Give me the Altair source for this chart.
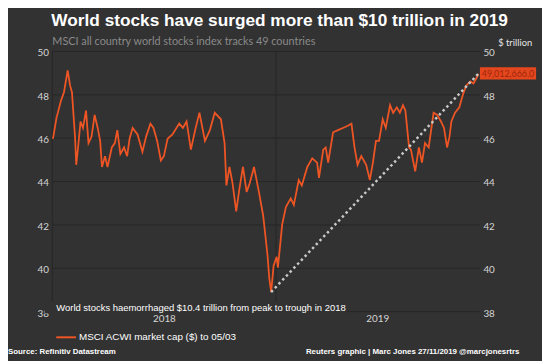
import altair as alt
import pandas as pd

# ---- data ----
dates = [
    "2018-01-02", "2018-01-08", "2018-01-10", "2018-01-15", "2018-01-20", "2018-01-26",
    "2018-01-30", "2018-02-02", "2018-02-07", "2018-02-09", "2018-02-12", "2018-02-16",
    "2018-02-20", "2018-02-25", "2018-03-01", "2018-03-06", "2018-03-11", "2018-03-16",
    "2018-03-20", "2018-03-23", "2018-03-28", "2018-04-01", "2018-04-08", "2018-04-13",
    "2018-04-17", "2018-04-22", "2018-04-28", "2018-05-03", "2018-05-07", "2018-05-12",
    "2018-05-20", "2018-05-28", "2018-06-03", "2018-06-10", "2018-06-15", "2018-06-21",
    "2018-06-27", "2018-07-02", "2018-07-08", "2018-07-16", "2018-07-27", "2018-08-02",
    "2018-08-08", "2018-08-15", "2018-08-22", "2018-08-29", "2018-09-07", "2018-09-15",
    "2018-09-23", "2018-10-03", "2018-10-09", "2018-10-12", "2018-10-17", "2018-10-22",
    "2018-10-28", "2018-11-02", "2018-11-08", "2018-11-14", "2018-11-19", "2018-11-26",
    "2018-12-04", "2018-12-11", "2018-12-18", "2018-12-21", "2018-12-24", "2018-12-28",
    "2019-01-02", "2019-01-04", "2019-01-11", "2019-01-17", "2019-01-25", "2019-01-30",
    "2019-02-07", "2019-02-12", "2019-02-21", "2019-03-01", "2019-03-09", "2019-03-12",
    "2019-03-19", "2019-03-23", "2019-03-27", "2019-04-04", "2019-04-12", "2019-04-20",
    "2019-04-28", "2019-05-04", "2019-05-09", "2019-05-14", "2019-05-20", "2019-05-28",
    "2019-06-03", "2019-06-08", "2019-06-13", "2019-06-18", "2019-06-24", "2019-06-29",
    "2019-07-06", "2019-07-11", "2019-07-17", "2019-07-22", "2019-07-27", "2019-07-31",
    "2019-08-06", "2019-08-09", "2019-08-16", "2019-08-22", "2019-08-27", "2019-09-01",
    "2019-09-07", "2019-09-15", "2019-09-21", "2019-09-27", "2019-10-02", "2019-10-07",
    "2019-10-11", "2019-10-14", "2019-10-20", "2019-10-27", "2019-11-02", "2019-11-07",
    "2019-11-14", "2019-11-19", "2019-11-25", "2019-11-27",
]
market_cap = [
    45.95, 46.95, 47.15, 47.7, 48.1, 49.1,
    48.4, 48.1, 46.05, 44.75, 45.55, 46.75,
    46.45, 47.25, 45.75, 46.05, 47.05, 46.45,
    45.85, 44.65, 45.15, 44.65, 45.55, 45.75,
    46.35, 45.25, 45.55, 45.15, 45.95, 46.45,
    46.15, 45.35, 46.05, 46.65, 46.45, 45.85,
    44.95, 45.15, 45.95, 46.15, 46.65, 46.45,
    46.75, 45.45, 46.35, 47.15, 45.85, 46.35,
    47.15, 46.85, 45.75, 43.8, 44.65, 43.9,
    42.6, 43.6, 44.65, 43.5, 43.9, 44.65,
    43.5, 42.4, 40.6, 39.5, 38.88, 40.1,
    40.5, 40.0, 42.0, 42.8, 43.2, 42.9,
    44.05, 43.8, 44.65, 45.05, 44.85, 44.15,
    45.45, 45.55, 44.85, 46.25, 46.35, 46.45,
    46.55, 46.65, 45.55, 44.75, 45.15, 44.75,
    44.05, 44.85, 45.85, 45.85, 46.85, 46.45,
    47.5, 47.15, 47.4, 47.15, 47.5, 47.25,
    45.55, 45.45, 44.45, 45.55, 44.85, 45.75,
    45.55, 47.15, 47.05, 46.75, 46.45, 45.55,
    46.05, 46.75, 47.15, 47.4, 48.0, 48.4,
    48.6, 48.5, 48.8, 48.95,
]
trend_dates = ["2018-12-24", "2019-11-27"]
trend_values = [38.88, 48.95]
year_boundaries = ["2018-01-01", "2019-01-01"]
y_ticks = [38, 40, 42, 44, 46, 48, 50]

title_text = "World stocks have surged more than $10 trillion in 2019"
subtitle_text = "MSCI all country world stocks index tracks 49 countries"
unit_text = "$ trillion"
annotation_text = "World stocks haemorrhaged $10.4 trillion from peak to trough in 2018"
legend_text = "MSCI ACWI market cap ($) to 05/03"
last_value_text = "49,012,666.0"
source_text = "Source: Refinitiv Datastream"
credit_text = "Reuters graphic | Marc Jones 27/11/2019 @marcjonesrtrs"

# ---- styles ----
BG = "#323232"
GRID = "#272727"
ORANGE = "#ee5524"
LABEL = "#d6d6d6"

df = pd.DataFrame({"date": dates, "value": market_cap})
trend = pd.DataFrame({"date": trend_dates, "value": trend_values})
bounds = pd.DataFrame({"date": year_boundaries})

x_scale = alt.Scale(domain=[alt.DateTime(year=2018, month=1, date=1, utc=True),
                            alt.DateTime(year=2019, month=11, date=28, utc=True)])
y_scale = alt.Scale(domain=[38, 50], nice=False, zero=False)

grid_rules = alt.Chart(bounds).mark_rule(color=GRID, strokeWidth=1).encode(
    x=alt.X("date:T", scale=x_scale, axis=None)
)

line = alt.Chart(df).mark_line(color=ORANGE, strokeWidth=1.8).encode(
    x=alt.X("date:T", scale=x_scale, title=None,
            axis=alt.Axis(values=[alt.DateTime(year=2018, month=7, date=2, utc=True),
                                  alt.DateTime(year=2019, month=6, date=15, utc=True)],
                          format="%Y", ticks=False, domain=False, grid=False,
                          labelFont="Lato", labelFontSize=10, labelColor=LABEL,
                          labelPadding=3)),
    y=alt.Y("value:Q", scale=y_scale, title=None,
            axis=alt.Axis(values=y_ticks, orient="left", ticks=False, domain=False,
                          grid=True, gridColor=GRID, gridWidth=1,
                          labelFont="Lato", labelFontSize=10, labelColor=LABEL,
                          labelPadding=4, labelOffset=2)),
)

trend_line = alt.Chart(trend).mark_line(
    color="#c9c9c9", strokeWidth=2.5, strokeDash=[2.5, 3]
).encode(
    x=alt.X("date:T", scale=x_scale, axis=None),
    y=alt.Y("value:Q", scale=y_scale, title=None,
            axis=alt.Axis(values=y_ticks, orient="right", ticks=False, domain=False,
                          grid=False, labelFont="Lato", labelFontSize=10,
                          labelColor=LABEL, labelPadding=4, labelOffset=2)),
)


def txt(s, x, y, **kw):
    return alt.Chart(pd.DataFrame({"t": [s]})).mark_text(**kw).encode(
        x=alt.value(x), y=alt.value(y), text="t:N")


annot_bg = alt.Chart(pd.DataFrame({"t": [annotation_text]})).mark_rect(color=BG).encode(
    x=alt.value(-8), x2=alt.value(299), y=alt.value(254), y2=alt.value(266.5))

legend_line = alt.Chart(pd.DataFrame({"t": [legend_text]})).mark_rule(
    color=ORANGE, strokeWidth=2).encode(
    x=alt.value(4), x2=alt.value(24), y=alt.value(290.6))

value_box = alt.Chart(pd.DataFrame({"t": [last_value_text]})).mark_rect(color="#e4471d").encode(
    x=alt.value(434), x2=alt.value(491), y=alt.value(16.5), y2=alt.value(29))

layers = [
    grid_rules,
    line,
    trend_line,
    annot_bg,
    txt(annotation_text, 4, 264, align="left", baseline="alphabetic",
        font="Liberation Sans", fontSize=9.6, color="#ffffff"),
    txt(title_text, -1, -25, align="left", baseline="alphabetic",
        font="Liberation Sans", fontSize=17.5, fontWeight="bold", color="#ffffff"),
    txt(subtitle_text, 0, -6.5, align="left", baseline="alphabetic",
        font="Lato", fontSize=11, color="#8a8a8a"),
    txt(unit_text, 487, -5.5, align="right", baseline="alphabetic",
        font="Lato", fontSize=9.5, color="#e6e6e6"),
    legend_line,
    txt(legend_text, 27, 290.6, align="left", baseline="middle",
        font="Liberation Sans", fontSize=10, color="#ffffff"),
    value_box,
    txt(last_value_text, 462.5, 23, align="center", baseline="middle",
        font="Lato", fontSize=9, color="#9e260c"),
    txt(source_text, -45, 308, align="left", baseline="alphabetic",
        font="Liberation Sans", fontSize=8, fontWeight="bold", color="#ffffff"),
    txt(credit_text, 474, 308, align="right", baseline="alphabetic",
        font="Liberation Sans", fontSize=8, fontWeight="bold", color="#ffffff"),
]

chart = alt.layer(*layers).resolve_scale(
    x="shared", y="shared"
).resolve_axis(
    x="independent", y="independent"
).properties(
    width=433, height=264,
    padding={"left": 45, "top": 41, "right": 64, "bottom": 48},
    autosize=alt.AutoSizeParams(type="none"),
    background=BG,
).configure_view(strokeWidth=0)

chart.save("out.html", embed_options={"renderer": "svg", "actions": False})
